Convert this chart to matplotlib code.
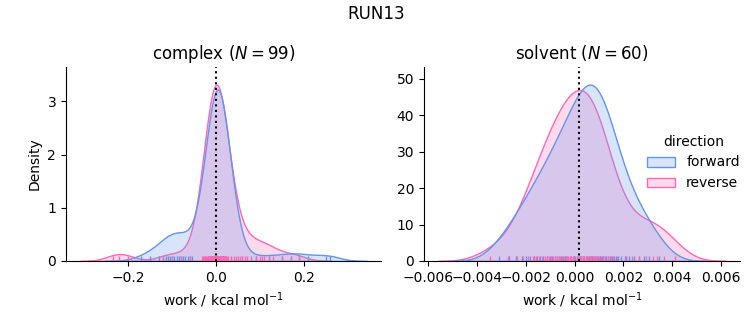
import numpy as np
import pandas as pd
import matplotlib
matplotlib.use("Agg")
import matplotlib.pyplot as plt
import seaborn as sns

complex_forward = [
    -0.17, -0.15, -0.13, -0.12, -0.115, -0.11, -0.105, -0.10, -0.095, -0.09,
    -0.085, -0.08, -0.075, -0.07, -0.065, -0.06, -0.055,
    -0.014, -0.011, -0.009, -0.008, -0.007, -0.006, -0.005, -0.004, -0.004, -0.003,
    -0.003, -0.002, -0.002, -0.001, -0.001, 0.000, 0.000, 0.000, 0.001, 0.001,
    0.001, 0.002, 0.002, 0.002, 0.003, 0.003, 0.003, 0.004, 0.004, 0.004,
    0.004, 0.004, 0.005, 0.005, 0.005, 0.006, 0.006, 0.006, 0.007, 0.007,
    0.007, 0.008, 0.008, 0.008, 0.009, 0.009, 0.010, 0.010, 0.011, 0.011,
    0.012, 0.012, 0.013, 0.014, 0.015, 0.016, 0.017, 0.019, 0.022, 0.003,
    0.005, 0.004, 0.002, 0.006, 0.001, 0.007, -0.001, 0.009, -0.005, 0.013,
    0.004, 0.005, 0.003,
    0.06, 0.09, 0.12, 0.15, 0.17, 0.19, 0.21, 0.25, 0.26,
]
complex_reverse = [
    -0.235, -0.22, -0.20,
    -0.12, -0.10, -0.08, -0.06,
    -0.030, -0.026, -0.023, -0.021, -0.019, -0.017, -0.016, -0.015, -0.014, -0.013,
    -0.012, -0.011, -0.010, -0.009, -0.009, -0.008, -0.007, -0.007, -0.006, -0.005,
    -0.005, -0.004, -0.004, -0.003, -0.003, -0.002, -0.002, -0.001, -0.001, 0.000,
    0.000, 0.001, 0.001, 0.002, 0.002, 0.003, 0.003, 0.004, 0.004, 0.005,
    0.005, 0.006, 0.006, 0.007, 0.008, 0.008, 0.009, 0.010, 0.011, 0.012,
    0.013, 0.014, 0.015, 0.016, 0.017, 0.018, 0.019, 0.021, 0.023, 0.025,
    -0.027, -0.024, 0.027, 0.006, 0.011,
    0.016, -0.004, 0.007, 0.020, -0.018, -0.008,
    0.000, -0.033, 0.034,
    0.035, 0.04, 0.045, 0.05, 0.055, 0.06, 0.065, 0.07, 0.08,
    0.09, 0.10, 0.105, 0.11, 0.12, 0.13, 0.15, 0.17, 0.19,
]
solvent_forward = np.array([
    -3.11, -2.69, -2.41, -2.16, -1.99, -1.81, -1.67, -1.55, -1.41, -1.31,
    -1.13, -1.015, -0.91, -0.82, -0.74, -0.65, -0.57, -0.485, -0.41, -0.34,
    -0.20, -0.13, -0.05, 0.01, 0.09, 0.14, 0.21, 0.26, 0.34, 0.40,
    0.46, 0.515, 0.58, 0.64, 0.68, 0.75, 0.80, 0.91, 0.98, 1.04,
    1.06, 1.11, 1.17, 1.23, 1.29, 1.37, 1.45, 1.53, 1.62, 1.70,
    1.79, 1.90, 0.72, 2.11, 2.25, 2.45, 2.65, 2.85, 3.05, 3.45,
]) * 1e-3
solvent_reverse = np.array([
    -3.49, -2.74, -2.36, -2.10, -1.90, -1.72, -1.59, -1.46, -1.33, -1.23,
    -1.14, -1.05, -0.96, -0.87, -0.79, -0.72, -0.66, -0.59, -0.52, -0.44,
    -0.37, -0.32, -0.26, -0.19, -0.13, -0.07, -0.01, -1.65, 0.10, 0.17,
    0.22, 0.275, 0.34, 0.39, 0.45, 0.52, 0.57, 0.62, 0.69, 0.75,
    0.79, 0.83, 0.89, 0.93, 1.01, 1.09, 1.16, 1.26, 1.36, 1.48,
    1.59, 1.75, 2.05, 2.35, 2.65, 2.95, 3.20, 3.40, 3.65, 4.10,
]) * 1e-3

phases = ["complex", "solvent"]
dg_estimate = [0.0005, 0.00018]   # dotted line position per phase

frames = []
for phase, direction, values in [
    ("complex", "forward", complex_forward),
    ("complex", "reverse", complex_reverse),
    ("solvent", "forward", solvent_forward),
    ("solvent", "reverse", solvent_reverse),
]:
    frames.append(pd.DataFrame({"work": values, "direction": direction, "phase": phase}))
df = pd.concat(frames, ignore_index=True)

g = sns.displot(df, x="work", hue="direction", col="phase", kind="kde",
                fill=True, rug=True, palette=["cornflowerblue", "hotpink"],
                facet_kws=dict(sharex=False, sharey=False), height=3, aspect=1)

fig = g.figure
fig.set_size_inches(7.53, 3.25)

for ax, phase, dg in zip(g.axes.flat, phases, dg_estimate):
    n = (df["phase"] == phase).sum() // 2
    ax.set_title(f"{phase} ($N={n}$)")
    ax.axvline(dg, color="k", ls=":")
    ax.set_xlabel("work / kcal mol$^{-1}$")

g.axes.flat[0].set_ylabel("Density")
g.axes.flat[1].set_ylabel("")
g.axes.flat[0].set_position([0.0876, 0.197, 0.4183, 0.597])
g.axes.flat[1].set_position([0.5631, 0.197, 0.4197, 0.597])

sns.move_legend(g, "center left", bbox_to_anchor=(0.843, 0.5), frameon=False)
fig.suptitle("RUN13", y=0.985)

fig.savefig("out.png", dpi=100)
